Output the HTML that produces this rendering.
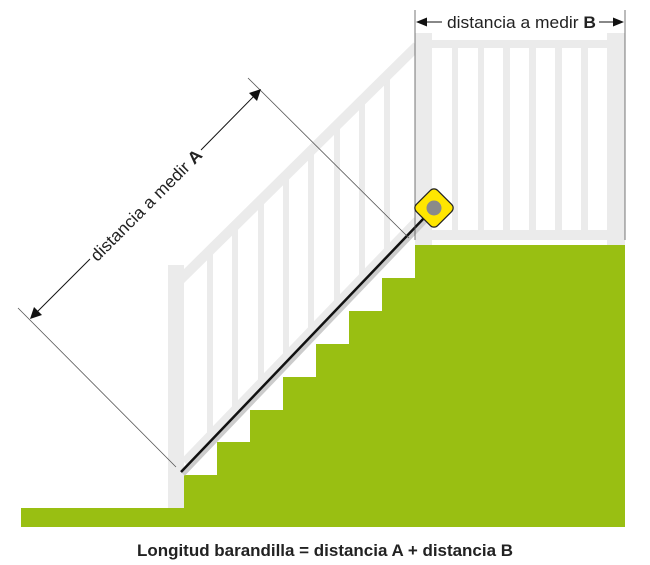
<!DOCTYPE html>
<html><head><meta charset="utf-8"><style>
html,body{margin:0;padding:0;background:#fff;width:650px;height:565px;overflow:hidden}
svg{display:block}
</style></head><body>
<svg width="650" height="565" viewBox="0 0 650 565" xmlns="http://www.w3.org/2000/svg">
<g fill="#ebebeb">
<rect x="415" y="33" width="17" height="212"/>
<rect x="607" y="33" width="18" height="212"/>
<rect x="432" y="40" width="175" height="8"/>
<rect x="432" y="230" width="175" height="10"/>
<rect x="452" y="48" width="6" height="182"/>
<rect x="478" y="48" width="6" height="182"/>
<rect x="503" y="48" width="7" height="182"/>
<rect x="529" y="48" width="7" height="182"/>
<rect x="555" y="48" width="7" height="182"/>
<rect x="581" y="48" width="7" height="182"/>
<rect x="168" y="265" width="16" height="243"/>
<rect x="207" y="252" width="6" height="186"/>
<rect x="232" y="227" width="6" height="185"/>
<rect x="258" y="201" width="6" height="184"/>
<rect x="283" y="176" width="6" height="183"/>
<rect x="308" y="152" width="6" height="181"/>
<rect x="334" y="126" width="6" height="180"/>
<rect x="359" y="101" width="6" height="179"/>
<rect x="384" y="77" width="6" height="177"/>
</g>
<line x1="180" y1="280" x2="417" y2="46" stroke="#ebebeb" stroke-width="10"/>
<line x1="184" y1="462" x2="417" y2="220" stroke="#ebebeb" stroke-width="8"/>
<polygon fill="#99bf12" points="21,508 184,508 184,475 217,475 217,442 250,442 250,410 283,410 283,377 316,377 316,344 349,344 349,311 382,311 382,278 415,278 415,245 625,245 625,527 21,527"/>
<line x1="183" y1="474" x2="427" y2="219" stroke="#ccc" stroke-width="5"/>
<line x1="181" y1="472" x2="425" y2="217" stroke="#111" stroke-width="2.5"/>
<g stroke="#555" stroke-width="0.8">
<line x1="415" y1="10" x2="415" y2="240"/>
<line x1="625" y1="10" x2="625" y2="240"/>
</g>
<line x1="420" y1="22" x2="442" y2="22" stroke="#111" stroke-width="1"/>
<line x1="599" y1="22" x2="620" y2="22" stroke="#111" stroke-width="1"/>
<polygon points="416,22 427,17.5 427,26.5" fill="#111"/>
<polygon points="624,22 613,17.5 613,26.5" fill="#111"/>
<text x="447" y="28" textLength="149" lengthAdjust="spacingAndGlyphs" font-family="Liberation Sans, sans-serif" font-size="17" fill="#222">distancia a medir <tspan font-weight="bold">B</tspan></text>
<g stroke="#555" stroke-width="0.8">
<line x1="248" y1="78" x2="409" y2="238"/>
<line x1="18" y1="308" x2="176" y2="467"/>
</g>
<line x1="33" y1="316" x2="90" y2="259" stroke="#111" stroke-width="1"/>
<line x1="201" y1="150" x2="258" y2="92" stroke="#111" stroke-width="1"/>
<polygon points="30,319 34,307 42,315" fill="#111"/>
<polygon points="261,89 249,93 257,101" fill="#111"/>
<text x="146" y="211" transform="rotate(-45 146 205)" textLength="150" lengthAdjust="spacingAndGlyphs" font-family="Liberation Sans, sans-serif" font-size="17" text-anchor="middle" fill="#222">distancia a medir <tspan font-weight="bold">A</tspan></text>
<rect x="419" y="193" width="30" height="30" rx="5" transform="rotate(45 434 208)" fill="#ffe600" stroke="#222" stroke-width="1.2"/>
<circle cx="434" cy="208" r="7.5" fill="#8a8a8a"/>
<text x="137" y="556" textLength="376" lengthAdjust="spacingAndGlyphs" font-family="Liberation Sans, sans-serif" font-size="17" font-weight="bold" fill="#222">Longitud barandilla = distancia A + distancia B</text>
</svg>
</body></html>
